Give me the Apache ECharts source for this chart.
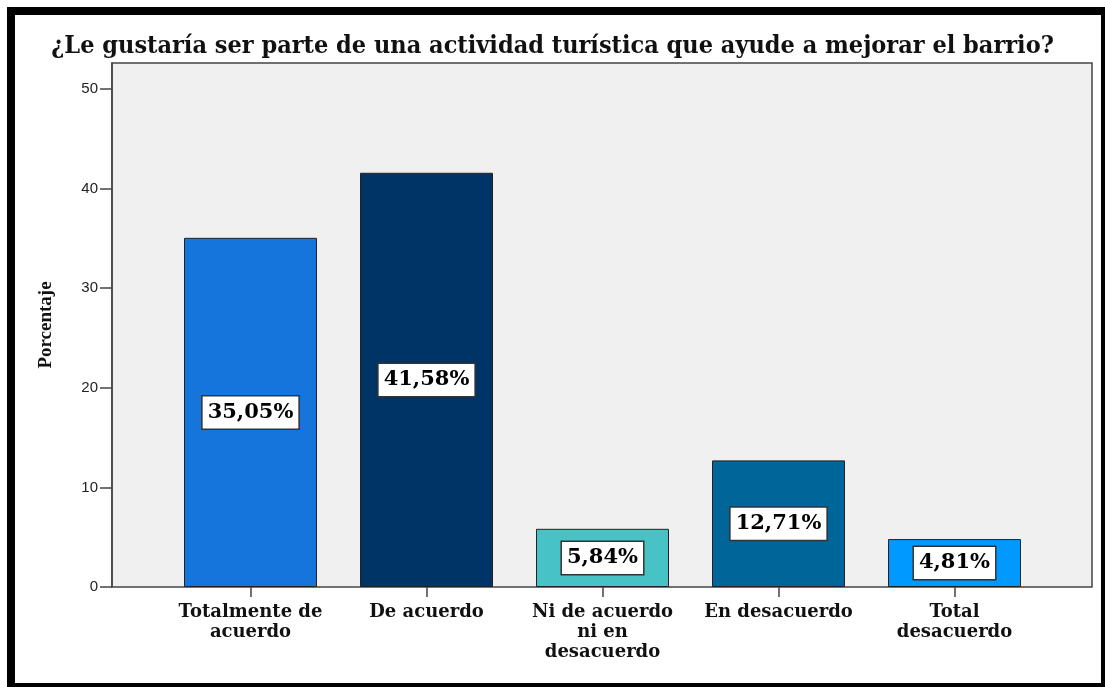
<!DOCTYPE html>
<html>
<head>
<meta charset="utf-8">
<script src="https://cdn.jsdelivr.net/npm/echarts@6/dist/echarts.min.js"></script>
<style>html,body{margin:0;padding:0;background:#fff;}#c{width:1105px;height:687px;}</style>
</head>
<body>
<div id="c"></div>
<script>
var categories = ['Totalmente de acuerdo', 'De acuerdo', 'Ni de acuerdo ni en desacuerdo', 'En desacuerdo', 'Total desacuerdo'];
var tickLabels = ['Totalmente de\nacuerdo', 'De acuerdo', 'Ni de acuerdo\nni en\ndesacuerdo', 'En desacuerdo', 'Total\ndesacuerdo'];
var values = [35.05, 41.58, 5.84, 12.71, 4.81];
var barColors = ['#1675DB', '#003466', '#47C3C6', '#006699', '#0099FF'];
var yTicks = [0, 10, 20, 30, 40, 50];

var chart = echarts.init(document.getElementById('c'), null, {renderer: 'canvas'});
var serif = "'DejaVu Serif', serif";
var option = {
  backgroundColor: '#fff',
  animation: false,
  title: {
    text: '¿Le gustaría ser parte de una actividad turística que ayude a mejorar el barrio?',
    left: 'center', top: 29,
    textStyle: {fontFamily: "'DejaVu Serif Condensed', 'DejaVu Serif', serif", fontWeight: 'bold', fontSize: 25, color: '#111'}
  },
  grid: [
    {left: 112, right: 13, top: 63, bottom: 100, show: true, backgroundColor: '#f0f0f0', borderColor: '#444', borderWidth: 1.5},
    {left: 162.5, right: 62.5, top: 63, bottom: 100}
  ],
  xAxis: [
    {gridIndex: 0, type: 'value', min: 0, max: 1, show: false},
    {gridIndex: 1, type: 'category', data: categories,
      axisLine: {show: false},
      axisTick: {show: true, alignWithLabel: true, length: 10, lineStyle: {color: '#444', width: 1.5}},
      axisLabel: {
        margin: 15, interval: 0, lineHeight: 20,
        fontFamily: serif, fontWeight: 'bold', fontSize: 18, color: '#111',
        formatter: function (v, i) { return tickLabels[i]; }
      }
    }
  ],
  yAxis: [
    {gridIndex: 0, type: 'value', min: 0, max: 52.6, interval: 10,
      name: 'Porcentaje', nameLocation: 'middle', nameGap: 56, nameRotate: 90,
      nameTextStyle: {fontFamily: "'Liberation Serif', serif", fontWeight: 'bold', fontSize: 19, color: '#111'},
      axisLine: {show: true, lineStyle: {color: '#444', width: 1.5}},
      axisTick: {show: true, length: 12, lineStyle: {color: '#444', width: 1.5}, customValues: yTicks},
      axisLabel: {margin: 14, fontFamily: "'Liberation Sans', Arial, sans-serif", fontSize: 15, color: '#222',
        customValues: yTicks},
      splitLine: {show: false}
    },
    {gridIndex: 1, type: 'value', min: 0, max: 52.6, show: false, splitLine: {show: false}}
  ],
  series: [{
    type: 'bar', xAxisIndex: 1, yAxisIndex: 1,
    barWidth: 133,
    data: values.map(function (v, i) {
      return {value: v, itemStyle: {color: barColors[i]}};
    }),
    itemStyle: {borderColor: '#222', borderWidth: 1},
    label: {
      show: true, position: 'inside',
      formatter: function (p) { return p.value.toFixed(2).replace('.', ',') + '%'; },
      fontFamily: serif, fontWeight: 'bold', fontSize: 21, color: '#000',
      backgroundColor: '#fff', borderColor: '#333', borderWidth: 1.5,
      padding: [4, 5, 3, 5], lineHeight: 25
    }
  }],
  graphic: [
    {type: 'rect', shape: {x: 7, y: 7, width: 1098, height: 8}, style: {fill: '#000'}, silent: true},
    {type: 'rect', shape: {x: 7, y: 7, width: 8, height: 680}, style: {fill: '#000'}, silent: true},
    {type: 'rect', shape: {x: 1101, y: 7, width: 4, height: 680}, style: {fill: '#000'}, silent: true},
    {type: 'rect', shape: {x: 7, y: 683, width: 1098, height: 4}, style: {fill: '#000'}, silent: true}
  ]
};
chart.setOption(option);
</script>
</body>
</html>
